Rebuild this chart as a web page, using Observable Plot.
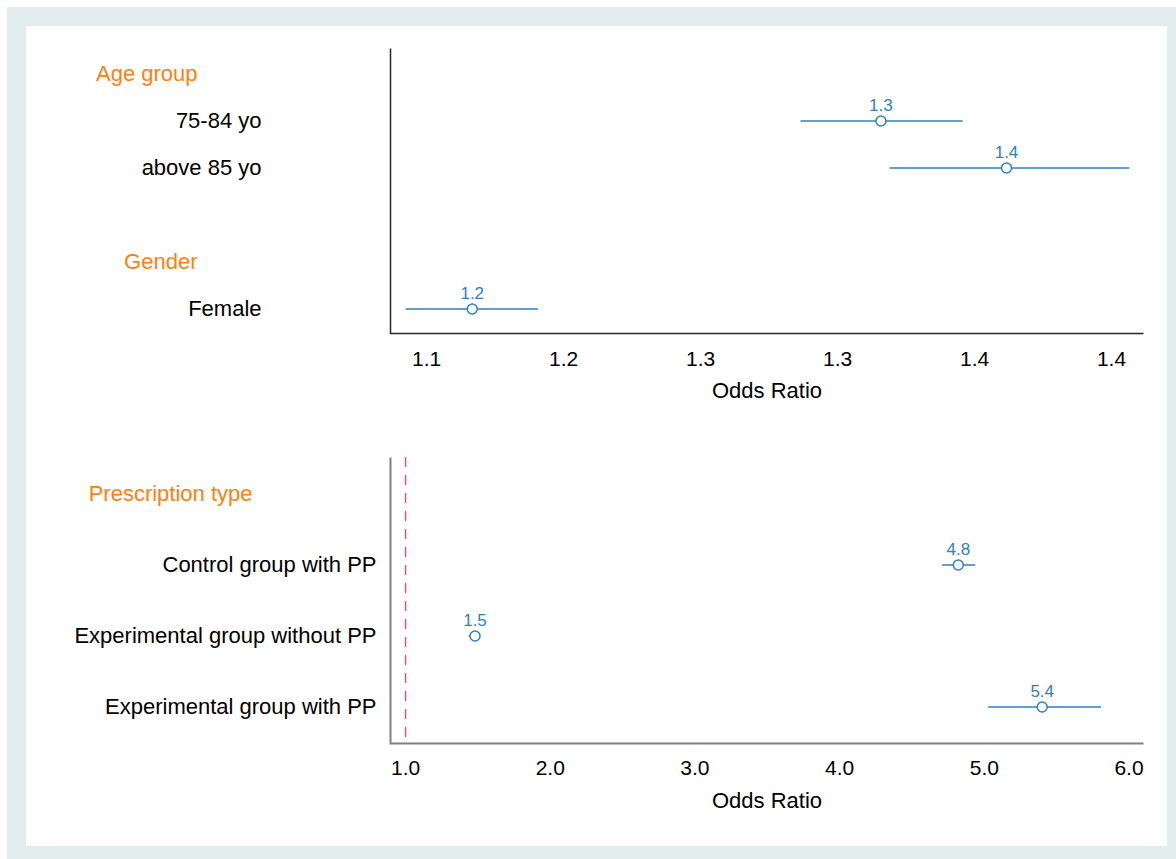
<!DOCTYPE html>
<html>
<head>
<meta charset="utf-8">
<script src="https://cdn.jsdelivr.net/npm/d3@7"></script>
<script src="https://cdn.jsdelivr.net/npm/@observablehq/plot@0.6"></script>
<style>
  html, body { margin: 0; padding: 0; background: #ffffff; }
  body { width: 1176px; height: 859px; position: relative; overflow: hidden; font-family: "Liberation Sans", Arial, sans-serif; }
  #border { position: absolute; left: 7px; top: 7px; width: 1169px; height: 852px; background: #e1eded; }
  #inner { position: absolute; left: 26px; top: 26px; width: 1141px; height: 820px; background: #ffffff; }
  .panel { position: absolute; left: 0; }
</style>
</head>
<body>
<div id="border"></div>
<div id="inner"></div>
<div id="p1" class="panel" style="top:0px"></div>
<div id="p2" class="panel" style="top:420px"></div>
<script>
// ---------- data ----------
const topRows    = ["Age group", "75-84 yo", "above 85 yo", " ", "Gender", "Female"];
const topHeaders = ["Age group", "Gender"];
const topCats    = ["75-84 yo", "above 85 yo", "Female"];
const topOR      = [1.339, 1.394, 1.160];
const topLo      = [1.304, 1.343, 1.131];
const topHi      = [1.375, 1.448, 1.189];
const topTicks   = [1.14, 1.20, 1.26, 1.32, 1.38, 1.44];

const botRows    = ["Prescription type", "Control group with PP", "Experimental group without PP", "Experimental group with PP"];
const botHeaders = ["Prescription type"];
const botCats    = ["Control group with PP", "Experimental group without PP", "Experimental group with PP"];
const botOR      = [4.82, 1.48, 5.40];
const botLo      = [4.71, 1.44, 5.03];
const botHi      = [4.94, 1.51, 5.81];
const botTicks   = [1, 2, 3, 4, 5, 6];
const refLine    = [1];

// ---------- styling ----------
const FONT = "Liberation Sans, Arial, sans-serif";
const BLUE = "#2f7fc3";
const ORANGE = "#ff7f0e";
const fmt = d3.format(".1f");

function rowsOf(cats, or, lo, hi) {
  return cats.map((c, i) => ({cat: c, or: or[i], lo: lo[i], hi: hi[i]}));
}

function panel({rows, headers, data, xDomain, ticks, height, marginTop, marginBottom,
                labelPad, headerPad, axisColor, axisWidth, tickPad, extra}) {
  const W = 1176, mL = 390, mR = 33;
  const fw = W - mL - mR, fh = height - marginTop - marginBottom;
  return Plot.plot({
    width: W, height, marginLeft: mL, marginRight: mR, marginTop, marginBottom,
    style: {fontFamily: FONT, fontSize: "22px", background: "none", color: "#000"},
    x: {domain: xDomain, label: null},
    y: {type: "band", domain: rows, padding: 0, label: null},
    marks: [
      ...(extra || []),
      Plot.frame({stroke: axisColor, strokeWidth: axisWidth, strokeDasharray: `0,${fw + fh},${fw + fh}`}),
      Plot.axisY({tickSize: 0, tickPadding: labelPad, fontSize: 22, color: "#000", label: null,
                  tickFormat: d => headers.includes(d) ? "" : d.trim()}),
      Plot.axisY({tickSize: 0, tickPadding: headerPad, fontSize: 22, color: ORANGE, label: null,
                  tickFormat: d => headers.includes(d) ? d : ""}),
      Plot.axisX({ticks, tickFormat: fmt, tickSize: 0, tickPadding: tickPad, fontSize: 21, color: "#000", label: null}),
      Plot.text(["Odds Ratio"], {frameAnchor: "bottom", dy: 57, fontSize: 22, fill: "#000", lineAnchor: "middle"}),
      Plot.ruleY(data, {y: "cat", x1: "lo", x2: "hi", stroke: BLUE, strokeWidth: 1.5}),
      Plot.dot(data, {x: "or", y: "cat", r: 5, stroke: BLUE, strokeWidth: 1.5, fill: "white"}),
      Plot.text(data, {x: "or", y: "cat", text: d => fmt(d.or), dy: -15, fill: BLUE, fontSize: 17, lineAnchor: "middle"})
    ]
  });
}

const p1 = panel({
  rows: topRows, headers: topHeaders,
  data: rowsOf(topCats, topOR, topLo, topHi),
  xDomain: [1.1242, 1.454], ticks: topTicks,
  height: 420, marginTop: 48, marginBottom: 87,
  labelPad: 129, headerPad: 193, axisColor: "#262626", axisWidth: 1.5, tickPad: 18
});
document.getElementById("p1").appendChild(p1);

const p2 = panel({
  rows: botRows, headers: botHeaders,
  data: rowsOf(botCats, botOR, botLo, botHi),
  xDomain: [0.896, 6.1], ticks: botTicks,
  height: 420, marginTop: 37, marginBottom: 97,
  labelPad: 14, headerPad: 138, axisColor: "#808080", axisWidth: 2, tickPad: 17,
  extra: [Plot.ruleX(refLine, {stroke: "#dc5a7a", strokeWidth: 1.5, strokeDasharray: "10,8"})]
});
document.getElementById("p2").appendChild(p2);
</script>
</body>
</html>
